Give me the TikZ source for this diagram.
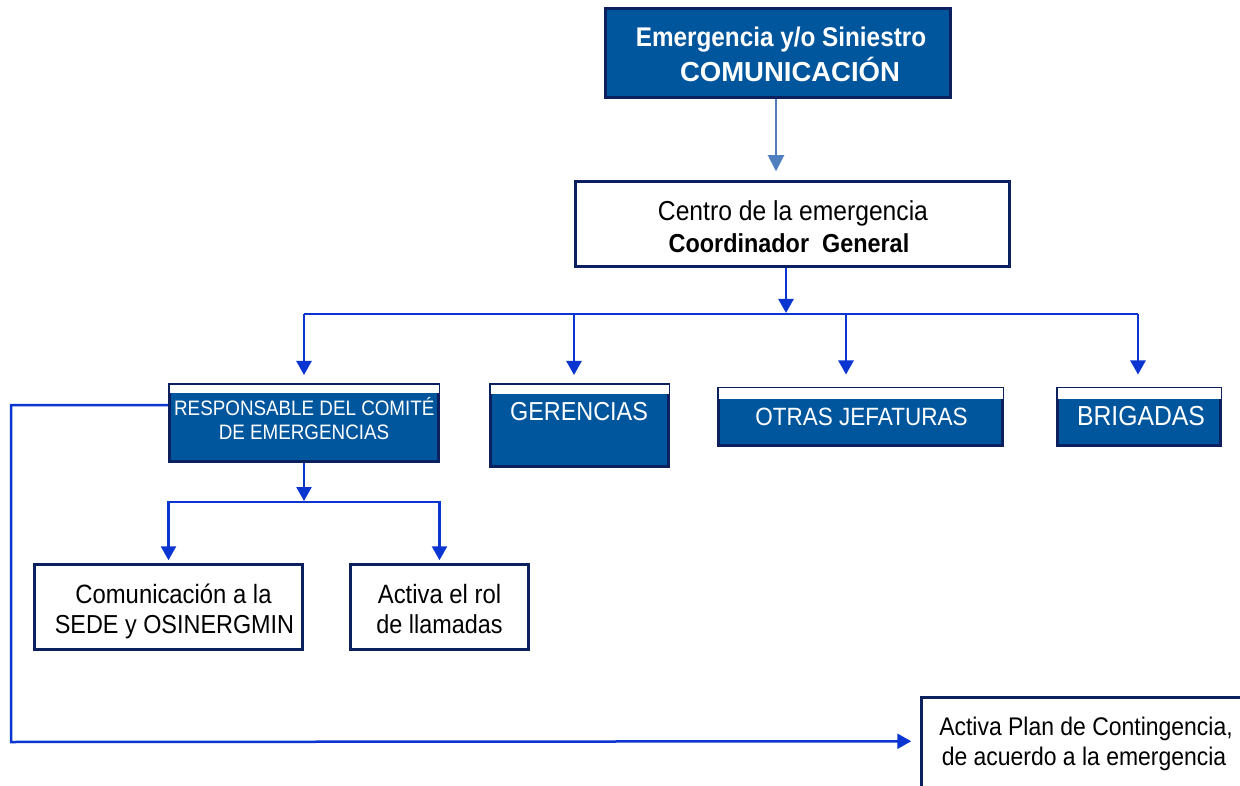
\documentclass[tikz,border=0pt]{standalone}
\usepackage{fontspec}
\setmainfont{Liberation Sans}[FakeStretch=0.9]
\newfontfamily\nfont{Liberation Sans}
\usetikzlibrary{arrows.meta,calc}
\definecolor{boxblue}{HTML}{00569D}
\definecolor{navy}{HTML}{0C1F5E}
\definecolor{lineblue}{HTML}{0A35D0}
\definecolor{steel}{HTML}{4F7FBF}
\begin{document}
\begin{tikzpicture}[x=1pt,y=-1pt,
  bluebox/.style={draw=navy, line width=3pt, fill=boxblue, inner sep=0pt},
  whitebox/.style={draw=navy, line width=2.5pt, fill=white, inner sep=0pt},
  wtxt/.style={text=white, inner sep=0pt, anchor=base},
  btxt/.style={text=black, inner sep=0pt, anchor=base},
  conn/.style={draw=lineblue, line width=2.5pt, -{Triangle[width=15pt,length=14pt]}},
  plainline/.style={draw=lineblue, line width=2.5pt},
  topconn/.style={draw=steel, line width=2pt, -{Triangle[width=16pt,length=16pt]}},
  strip/.style={fill=white}
]
\useasboundingbox (0,0) rectangle (1240,786);

% boxes
\node[bluebox, minimum width=345pt, minimum height=89pt] (top) at (778,53) {};
\node[whitebox, minimum width=434pt, minimum height=85pt] (centro) at (792.5,224) {};
\node[bluebox, minimum width=269pt, minimum height=77pt] (resp) at (304,423) {};
\node[bluebox, minimum width=178pt, minimum height=82pt] (ger) at (579.5,425.5) {};
\node[bluebox, minimum width=284pt, minimum height=57pt] (otras) at (860.5,416.5) {};
\node[bluebox, minimum width=163pt, minimum height=57pt] (brig) at (1139,416.5) {};
\node[whitebox, minimum width=268pt, minimum height=85pt] (comu) at (168.5,607) {};
\node[whitebox, minimum width=178pt, minimum height=85pt] (rol) at (439.5,607) {};
\node[whitebox, minimum width=340pt, minimum height=110pt] (plan) at (1091.5,752.5) {};

% white strips
\fill[strip] ($(resp.north west)+(1.5,1.5)$) rectangle ($(resp.north east)+(-1.5,10)$);
\fill[strip] ($(ger.north west)+(1.5,1.5)$) rectangle ($(ger.north east)+(-1.5,11)$);
\fill[strip] ($(otras.north west)+(1.5,1.5)$) rectangle ($(otras.north east)+(-1.5,12)$);
\fill[strip] ($(brig.north west)+(1.5,1.5)$) rectangle ($(brig.north east)+(-1.5,12)$);

% texts
\node[wtxt, font=\bfseries\fontsize{27}{32}\selectfont] (t1) at (781,46.5) {Emergencia y/o Siniestro};
\node[wtxt, font=\nfont\bfseries\fontsize{27.5}{32}\selectfont] (t2) at (790,81.5) {COMUNICACIÓN};
\node[btxt, font=\fontsize{27.4}{32}\selectfont] (c1) at (793,221) {Centro de la emergencia};
\node[btxt, font=\bfseries\fontsize{26}{30}\selectfont] (c2) at (789,252.3) {Coordinador\ \ General};
\node[wtxt, font=\fontsize{20.9}{24}\selectfont] (r1) at (304.3,415) {RESPONSABLE DEL COMITÉ};
\node[wtxt, font=\fontsize{20.9}{24}\selectfont] (r2) at (304,439.5) {DE EMERGENCIAS};
\node[wtxt, font=\fontsize{26}{30}\selectfont] (g1) at (579,420) {GERENCIAS};
\node[wtxt, font=\fontsize{25}{30}\selectfont] (o1) at (861.5,425) {OTRAS JEFATURAS};
\node[wtxt, font=\fontsize{27.5}{30}\selectfont] (b1) at (1141,425) {BRIGADAS};
\node[btxt, font=\fontsize{26.5}{30}\selectfont] (m1) at (173.5,603) {Comunicación a la};
\node[btxt, font=\fontsize{26}{30}\selectfont] (m2) at (174.5,633.3) {SEDE y OSINERGMIN};
\node[btxt, font=\fontsize{26.5}{30}\selectfont] (a1) at (439.5,603) {Activa el rol};
\node[btxt, font=\fontsize{26}{30}\selectfont] (a2) at (439.5,633.3) {de llamadas};
\node[btxt, font=\fontsize{25.5}{30}\selectfont] (p1) at (1086,735) {Activa Plan de Contingencia,};
\node[btxt, font=\fontsize{25.5}{30}\selectfont] (p2) at (1084,765) {de acuerdo a la emergencia};

% connectors
\coordinate (tx) at (776,0);
\coordinate (bus1) at (786,314);
\coordinate (busL) at (304,314);
\coordinate (busR) at (1138,314);
\coordinate (bg) at (574,314);
\coordinate (bo) at (846,314);
\coordinate (bus2) at (304,502);
\coordinate (lc) at (11,742);

\draw[topconn, shorten >=9pt] (top.south -| tx) -- (centro.north -| tx);
\draw[conn] (centro.south -| bus1) -- ($(bus1)+(0,-1)$);
\draw[plainline] (busL) -- (busR);
\draw[conn, shorten >=8pt] (busL) -- (resp.north);
\draw[conn, shorten >=8pt] (bg) -- (ger.north -| bg);
\draw[conn, shorten >=12pt] (bo) -- (otras.north -| bo);
\draw[conn, shorten >=12pt] (busR) -- (brig.north -| busR);

\draw[conn] (resp.south) -- ($(bus2)+(0,-1)$);
\draw[conn, shorten >=3pt] (bus2) -| (comu.north);
\draw[conn, shorten >=3pt] (bus2) -| (rol.north);

\draw[conn] ($(resp.north west)+(0,22)$) -| (lc) -- ($(plan.north west)+(-9,45)$);
\end{tikzpicture}
\end{document}
